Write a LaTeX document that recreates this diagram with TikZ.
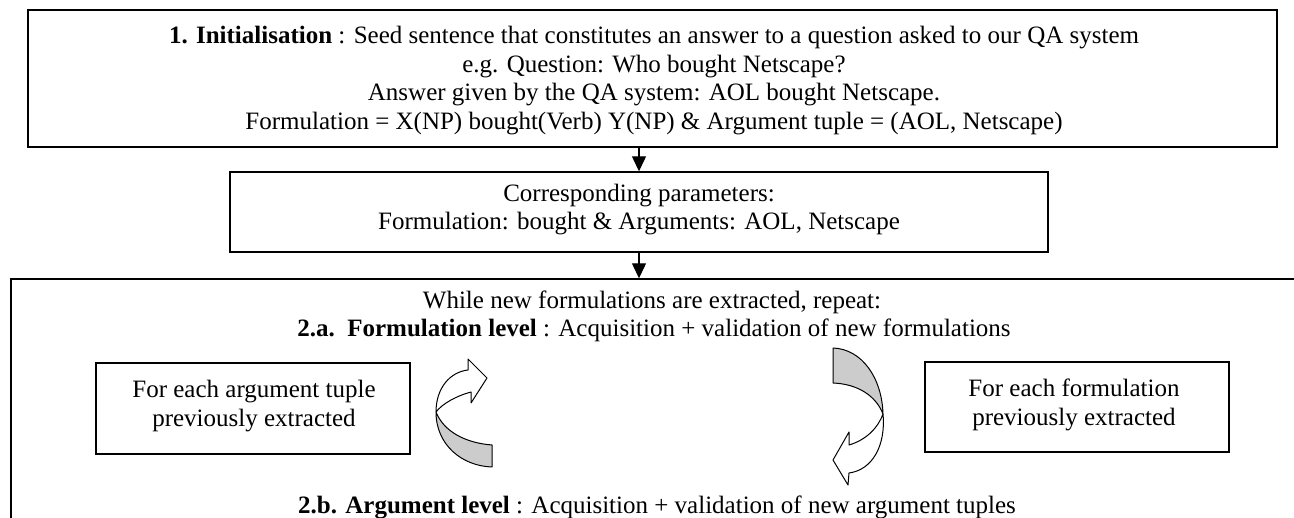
\documentclass[tikz,border=0pt]{standalone}
\usepackage{fontspec}
\setmainfont{Liberation Serif}
\usetikzlibrary{arrows.meta}
\begin{document}
\begin{tikzpicture}[x=1pt,y=-1pt,
  box/.style={draw, line width=1.4pt, inner sep=0pt},
  txt/.style={inner sep=0pt, anchor=base, font=\fontsize{25}{29}\selectfont},
  conn/.style={line width=1.2pt, -{Triangle[length=15pt,width=14pt]}},
  bandfront/.style={draw, fill=white, line width=1pt, line join=round},
  bandback/.style={draw, fill=black!20, line width=1pt, line join=round}]
\useasboundingbox (0,0) rectangle (1294,518);
\clip (0,0) rectangle (1294,518);

% boxes
\node[box, minimum width=1249pt, minimum height=137pt] (init) at (652.5,78.5) {};
\node[box, minimum width=818pt, minimum height=80pt] (params) at (639,212) {};
\node[box, minimum width=1389pt, minimum height=321pt] (loop) at (705.5,439.5) {};
\node[box, minimum width=314pt, minimum height=91pt] (argbox) at (253,408.5) {};
\node[box, minimum width=304pt, minimum height=90pt] (formbox) at (1077,407) {};

% texts of the first box
\node[txt] (i1) at (654,44) {\textbf{1. Initialisation} : Seed sentence that constitutes an answer to a question asked to our QA system};
\node[txt] (i2) at (654,72.5) {e.g. Question: Who bought Netscape?};
\node[txt] (i3) at (654,101) {Answer given by the QA system: AOL bought Netscape.};
\node[txt] (i4) at (654,129.5) {Formulation = X(NP) bought(Verb) Y(NP) \& Argument tuple = (AOL, Netscape)};

% texts of the second box
\node[txt] (p1) at (639,202) {Corresponding parameters:};
\node[txt] (p2) at (639,230) {Formulation: bought \& Arguments: AOL, Netscape};

% texts of the loop
\node[txt] (whiletxt) at (652,308.5) {While new formulations are extracted, repeat:};
\node[txt] (formlevel) at (654,337) {\textbf{2.a.\ \ Formulation level} : Acquisition + validation of new formulations};
\node[txt] (arglevel) at (657,514) {\textbf{2.b. Argument level} : Acquisition + validation of new argument tuples};

\node[txt] (a1) at (254,398) {For each argument tuple};
\node[txt] (a2) at (254,426.5) {previously extracted};
\node[txt] (f1) at (1074,397) {For each formulation};
\node[txt] (f2) at (1074,425.5) {previously extracted};

% connectors
\draw[conn] (params.north |- init.south) -- (params.north);
\draw[conn] (params.south) -- (params.south |- loop.north);

% left curved arrow
\draw[bandback] (436,412) .. controls (436,445) and (462,466) .. (492,467)
  -- (492,445) .. controls (466,443) and (444,432) .. cycle;
\draw[bandfront] (436,412) .. controls (436,388) and (450,372) .. (468,370)
  -- (468,359) -- (487,378) -- (471,403) -- (471,392)
  .. controls (456,396) and (442,404) .. cycle;

% right curved arrow
\draw[bandback] (833,348) .. controls (862,349) and (882,378) .. (883,414)
  .. controls (876,396) and (858,384) .. (833,383) -- cycle;
\draw[bandfront] (883,414) .. controls (886,446) and (872,470) .. (849,473)
  -- (848,485) -- (833,460) -- (849,432) -- (849,445)
  .. controls (866,440) and (878,428) .. cycle;
\end{tikzpicture}
\end{document}
